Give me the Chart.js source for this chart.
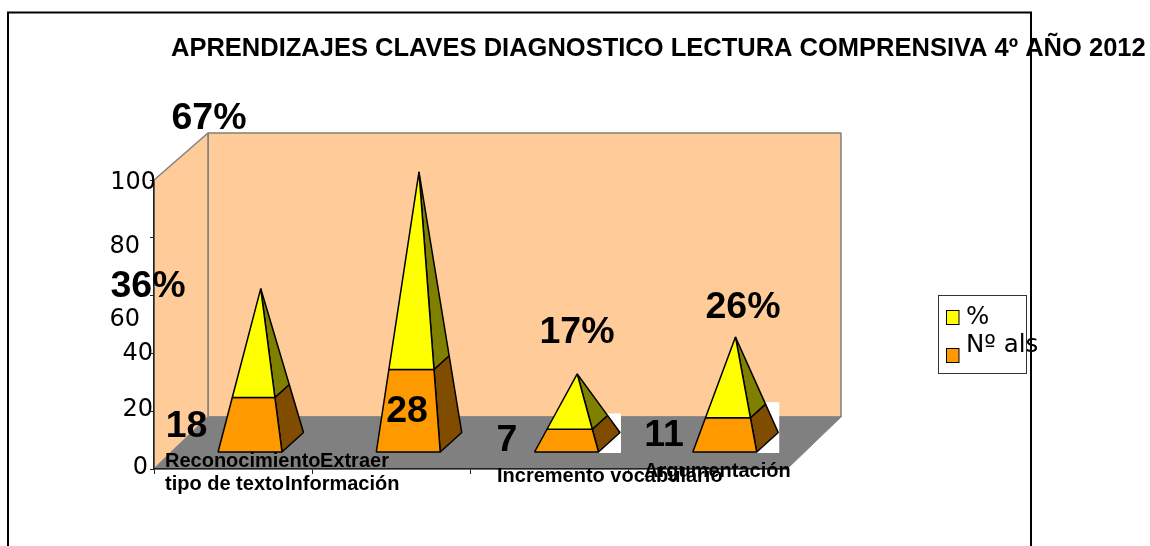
<!DOCTYPE html>
<html>
<head>
<meta charset="utf-8">
<style>html,body{margin:0;padding:0;background:#fff}canvas{display:block}</style>
<script src="https://cdn.jsdelivr.net/npm/chart.js@4/dist/chart.umd.js"></script>
</head>
<body>
<canvas id="c" width="1150" height="546"></canvas>
<script>
const titleText = "APRENDIZAJES CLAVES DIAGNOSTICO LECTURA COMPRENSIVA 4º AÑO 2012";
const categories = [["Reconocimiento","tipo de texto"],["Extraer","Información"],["Incremento vocabulario"],["Argumentación"]];
const alumnos = [18, 28, 7, 11];
const porcentaje = [36, 67, 17, 26];
const yTicks = [0, 20, 40, 60, 80, 100];

// layout only
const SANS = '"Liberation Sans", Arial, sans-serif';
const DEJA = '"DejaVu Sans", sans-serif';
const tickNudge = [[-2,-1],[3,-1],[3,0],[-10,24.5],[-10,9],[6,3]];
const pctLabelAt = [[148,287],[209,119],[577,333],[743,308]];
const alsLabelAt = [[186.5,427],[407,412],[507,441],[664,436]];
const catLineAt = [[[165,461,'left'],[165,484,'left']],[[320,461,'left'],[285,484,'left']],[[497,476,'left']],[[644,471,'left']]];
const whitePatch = [false,false,true,true];

function poly(ctx, pts, fill, stroke, lw){
  ctx.beginPath();
  pts.forEach((p,i)=> i?ctx.lineTo(p[0],p[1]):ctx.moveTo(p[0],p[1]));
  ctx.closePath();
  if(fill){ctx.fillStyle=fill;ctx.fill();}
  if(stroke){ctx.strokeStyle=stroke;ctx.lineWidth=lw||1;ctx.lineJoin='bevel';ctx.stroke();}
}
const lerp=(a,b,t)=>[a[0]+(b[0]-a[0])*t,a[1]+(b[1]-a[1])*t];

const nudgeTicks = {
  id:'nudgeTicks',
  afterUpdate(chart){
    const items = chart.scales.y.getLabelItems(chart.chartArea);
    items.forEach((it,i)=>{
      const n = tickNudge[i]; if(!n) return;
      it.options.translation[0]+=n[0];
      it.options.translation[1]+=n[1];
    });
  }
};

const walls = {
  id:'walls',
  beforeDraw(chart){
    const {ctx,chartArea:a}=chart;
    const l=a.left,r=a.right,t=a.top,b=a.bottom;
    const dx=54,dyB=-52,dyT=-47;
    ctx.save();
    poly(ctx,[[l+dx,t+dyT],[r+dx,t+dyT],[r+dx,b+dyB],[l+dx,b+dyB]],'#ffcc99','#808080',1.5);
    poly(ctx,[[l,t],[l+dx,t+dyT],[l+dx,b+dyB],[l,b]],'#ffcc99','#808080',1.5);
    poly(ctx,[[l,b],[l+dx,b+dyB],[r+dx,b+dyB],[r,b]],'#808080','#808080',1);
    ctx.restore();
  }
};

const pyramids = {
  id:'pyramids',
  afterDatasetsDraw(chart){
    const {ctx}=chart, y=chart.scales.y;
    const low=chart.getDatasetMeta(0).data, up=chart.getDatasetMeta(1).data;
    const y0=y.getPixelForValue(0);
    ctx.save();
    low.forEach((bar,i)=>{
      const cx=bar.x+27.6, cy=y0-26.7;
      const hw=bar.width/2;
      const fl=[cx-10.7-hw,cy+9.7], fr=[cx-10.7+hw,cy+9.7], br=[cx-10.7+hw+21.5,cy-9.8];
      const apex=[cx, cy-0.985*(y0-up[i].y)];
      const t=alumnos[i]/(alumnos[i]+porcentaje[i]);
      const ml=lerp(fl,apex,t), mr=lerp(fr,apex,t), mb=lerp(br,apex,t);
      if(whitePatch[i]){
        ctx.fillStyle='#fff';
        ctx.fillRect(fr[0],mb[1]-2,br[0]-fr[0]+1,fr[1]-mb[1]+3);
      }
      const K='#000';
      poly(ctx,[fr,br,mb,mr],'#804c00',K,1.5);
      poly(ctx,[mr,mb,apex],'#808000',K,1.5);
      poly(ctx,[fl,fr,mr,ml],'#ff9900',K,1.5);
      poly(ctx,[ml,mr,apex],'#ffff00',K,1.5);
    });
    ctx.restore();
  }
};

const overlay = {
  id:'overlay',
  afterDraw(chart){
    const {ctx}=chart;
    ctx.save();
    // frame
    ctx.strokeStyle='#000';ctx.lineWidth=2;
    ctx.beginPath();ctx.moveTo(8,547);ctx.lineTo(8,12.5);ctx.lineTo(1031,12.5);ctx.lineTo(1031,547);ctx.stroke();
    ctx.fillStyle='#000';ctx.textBaseline='middle';
    // title
    ctx.font='bold 25.5px '+SANS;ctx.textAlign='left';
    ctx.fillText(titleText,171,48.5);
    // data labels
    ctx.font='bold 37.5px '+SANS;ctx.textAlign='center';
    porcentaje.forEach((v,i)=>ctx.fillText(v+'%',pctLabelAt[i][0],pctLabelAt[i][1]));
    alumnos.forEach((v,i)=>ctx.fillText(String(v),alsLabelAt[i][0],alsLabelAt[i][1]));
    // category labels
    ctx.font='bold 20px '+SANS;
    categories.forEach((lines,i)=>lines.forEach((s,j)=>{
      const p=catLineAt[i][j];ctx.textAlign=p[2];ctx.fillText(s,p[0],p[1]);
    }));
    // legend
    ctx.fillStyle='#fff';ctx.fillRect(938.5,295.5,88,78);
    ctx.strokeStyle='#333';ctx.lineWidth=1;ctx.strokeRect(938.5,295.5,88,78);
    const ds=chart.data.datasets;
    [[1,310,318],[0,348,346]].forEach(([k,sy,ty])=>{
      ctx.fillStyle=ds[k].legendColor;ctx.fillRect(946.5,sy+.5,12.5,14);
      ctx.strokeStyle='#000';ctx.lineWidth=1;ctx.strokeRect(946.5,sy+.5,12.5,14);
      ctx.fillStyle='#000';ctx.font='24.5px '+DEJA;ctx.textAlign='left';
      ctx.fillText(ds[k].label,966,ty);
    });
    // frame line passes over the legend text
    ctx.strokeStyle='#000';ctx.lineWidth=2;
    ctx.beginPath();ctx.moveTo(1031,12);ctx.lineTo(1031,547);ctx.stroke();
    ctx.restore();
  }
};

new Chart(document.getElementById('c'),{
  type:'bar',
  data:{
    labels:categories,
    datasets:[
      {label:'Nº als',data:alumnos,backgroundColor:'transparent',borderWidth:0,legendColor:'#ff9900',barPercentage:.404,categoryPercentage:1},
      {label:'%',data:porcentaje,backgroundColor:'transparent',borderWidth:0,legendColor:'#ffff00',barPercentage:.404,categoryPercentage:1}
    ]
  },
  options:{
    responsive:false,animation:false,
    layout:{padding:{left:104,top:180,right:363,bottom:72}},
    plugins:{legend:{display:false},title:{display:false},tooltip:{enabled:false}},
    scales:{
      x:{stacked:true,
        afterFit(s){s.height=5;},
        ticks:{display:false},
        grid:{drawOnChartArea:false,drawTicks:true,tickLength:5,color:'#222'},
        border:{color:'#222',width:1.5}},
      y:{stacked:true,min:0,max:100,
        afterFit(s){s.width=50;},
        afterBuildTicks(s){s.ticks=yTicks.map(v=>({value:v}));},
        ticks:{font:{family:DEJA,size:24},color:'#000',padding:0},
        grid:{drawOnChartArea:false,drawTicks:true,tickLength:4,color:'#222'},
        border:{color:'#222',width:1.5}}
    }
  },
  plugins:[nudgeTicks,walls,pyramids,overlay]
});
</script>
</body>
</html>
